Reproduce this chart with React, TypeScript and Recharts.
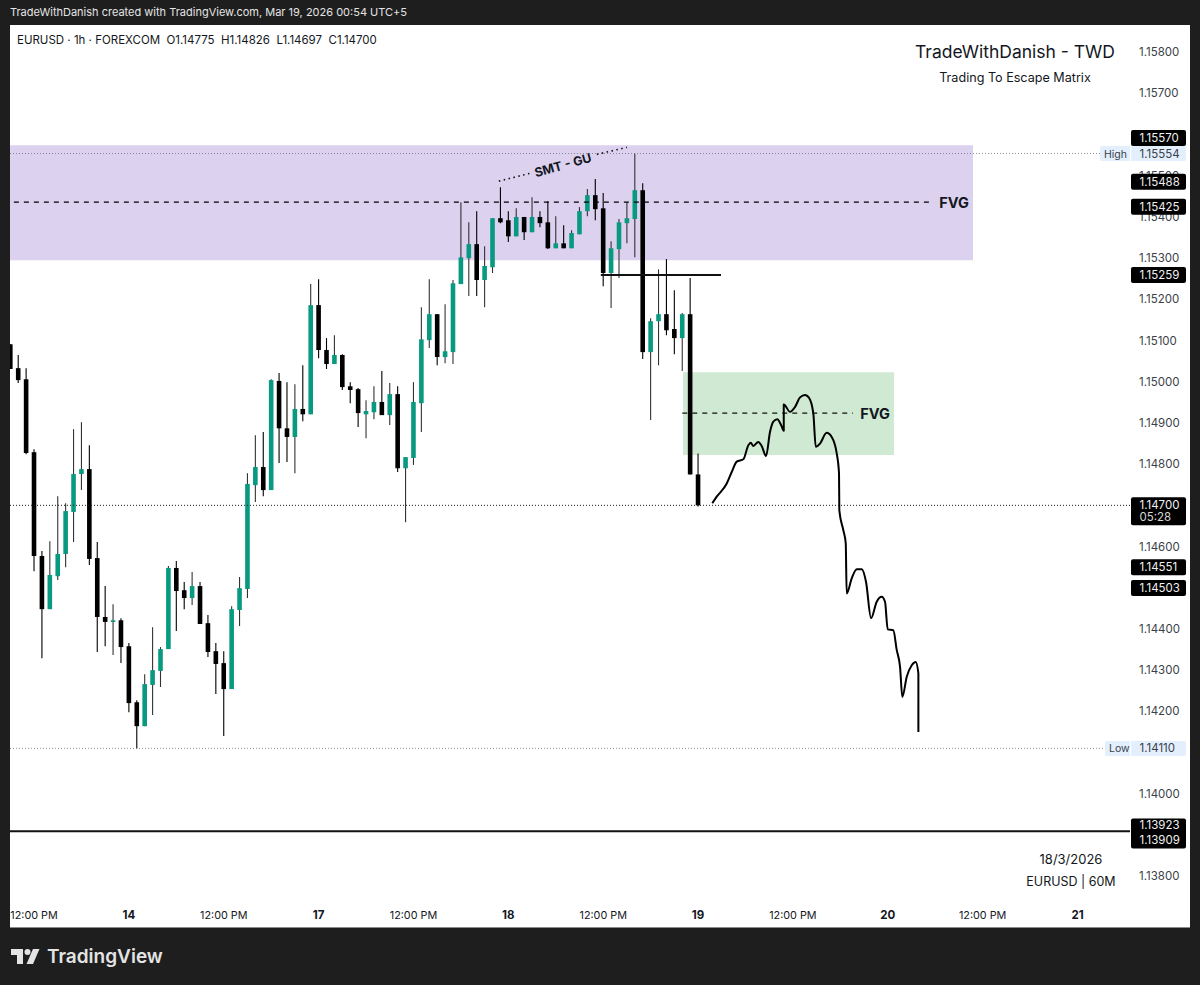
import React from "react";
import {
  ComposedChart, Bar, Line, XAxis, YAxis, ReferenceArea, ReferenceLine, ReferenceDot,
} from "recharts";

const hourIndex = Array.from({ length: 88 }, (_, i) => i);
const opens = [
  1.15091,1.15033,1.15006,1.14829,1.14577,1.14448,1.14528,1.14582,1.14684,1.14776,
  1.14788,1.14572,1.14429,1.14417,1.14421,1.14358,1.14222,1.14164,1.14264,1.14298,
  1.14351,1.14548,1.14494,1.14475,1.14504,1.14414,1.14346,1.14317,1.14254,1.14446,
  1.14497,1.14749,1.14793,1.14737,1.15002,1.14887,1.14866,1.14934,1.14921,1.15186,
  1.15077,1.15043,1.15065,1.14989,1.14982,1.14921,1.14926,1.14951,1.14919,1.14970,
  1.14790,1.14815,1.14948,1.15101,1.15164,1.15060,1.15072,1.15237,1.15300,1.15334,
  1.15247,1.15278,1.15397,1.15392,1.15353,1.15400,1.15363,1.15400,1.15387,1.15324,
  1.15336,1.15324,1.15358,1.15414,1.15453,1.15421,1.15264,1.15322,1.15385,1.15395,
  1.15465,1.15072,1.15147,1.15164,1.15128,1.15106,1.15164,1.14775,
];
const closes = [
  1.15031,1.15004,1.14827,1.14577,1.14448,1.14531,1.14582,1.14686,1.14776,1.14788,
  1.14570,1.14429,1.14417,1.14421,1.14356,1.14220,1.14164,1.14266,1.14300,1.14351,
  1.14548,1.14492,1.14475,1.14504,1.14412,1.14344,1.14315,1.14254,1.14448,1.14499,
  1.14752,1.14793,1.14737,1.15004,1.14887,1.14866,1.14934,1.14921,1.15186,1.15077,
  1.15043,1.15065,1.14987,1.14980,1.14924,1.14929,1.14951,1.14919,1.14970,1.14790,
  1.14817,1.14951,1.15103,1.15164,1.15060,1.15074,1.15239,1.15302,1.15334,1.15247,
  1.15281,1.15397,1.15387,1.15353,1.15400,1.15363,1.15400,1.15385,1.15324,1.15336,
  1.15324,1.15361,1.15414,1.15453,1.15419,1.15264,1.15324,1.15387,1.15397,1.15465,
  1.15072,1.15147,1.15164,1.15125,1.15106,1.15164,1.14775,1.14700,
];
const highs = [
  1.15091,1.15065,1.15033,1.14836,1.14589,1.14613,1.14722,1.14705,1.14885,1.14902,
  1.14846,1.14611,1.14504,1.14460,1.14426,1.14366,1.14227,1.14290,1.14404,1.14356,
  1.14553,1.14565,1.14514,1.14538,1.14514,1.14434,1.14366,1.14346,1.14455,1.14526,
  1.14778,1.14870,1.14878,1.15006,1.15021,1.14999,1.14994,1.15040,1.15237,1.15249,
  1.15106,1.15113,1.15067,1.14999,1.14985,1.14955,1.14989,1.15026,1.14997,1.14989,
  1.14817,1.14999,1.15181,1.15249,1.15164,1.15188,1.15247,1.15436,1.15387,1.15414,
  1.15329,1.15397,1.15472,1.15414,1.15421,1.15400,1.15448,1.15414,1.15438,1.15402,
  1.15380,1.15368,1.15424,1.15468,1.15492,1.15458,1.15341,1.15395,1.15436,1.15554,
  1.15482,1.15154,1.15273,1.15298,1.15222,1.15167,1.15252,1.14826,
];
const lows = [
  1.15031,1.14997,1.14824,1.14540,1.14329,1.14448,1.14519,1.14550,1.14611,1.14737,
  1.14555,1.14344,1.14358,1.14337,1.14317,1.14198,1.14110,1.14164,1.14191,1.14259,
  1.14351,1.14395,1.14448,1.14458,1.14412,1.14332,1.14242,1.14140,1.14254,1.14407,
  1.14475,1.14708,1.14722,1.14737,1.14803,1.14805,1.14778,1.14904,1.14921,1.15057,
  1.15031,1.15043,1.14980,1.14948,1.14890,1.14863,1.14909,1.14919,1.14895,1.14781,
  1.14659,1.14798,1.14878,1.15082,1.15040,1.15045,1.15043,1.15237,1.15208,1.15208,
  1.15181,1.15264,1.15385,1.15339,1.15353,1.15344,1.15363,1.15375,1.15322,1.15324,
  1.15324,1.15324,1.15358,1.15402,1.15392,1.15232,1.15179,1.15252,1.15336,1.15302,
  1.15055,1.14907,1.15040,1.15113,1.15067,1.15026,1.14775,1.14697,
];
const candles = hourIndex.map((idx, i) => ({
  idx, open: opens[i], close: closes[i], high: highs[i], low: lows[i], range: [lows[i], highs[i]],
}));

const sketchHours = [
  88.8,89.36,90.63,91.26,91.89,92.73,93.36,93.66,93.99,94.62,95.05,95.6,96.1,96.52,97.03,97.5,97.84,97.84,
  98.64,99.27,99.9,100.53,101.07,101.58,101.89,102.43,103.27,103.9,104.54,104.83,104.87,105.37,105.68,105.8,
  106.44,107.07,107.7,108.25,108.88,109.6,110.23,110.65,110.99,111.7,112.13,112.55,112.84,113.4,114.03,114.53,114.87,114.87,
];
const sketchPrices = [
  1.14705,1.14721,1.14753,1.14781,1.14806,1.14812,1.14846,1.14852,1.14844,1.14854,1.14844,1.14820,1.14878,1.14903,1.14909,1.14895,1.14881,1.14945,
  1.14927,1.14939,1.14962,1.14968,1.14960,1.14923,1.14842,1.14850,1.14876,1.14866,1.14826,1.14778,1.14688,1.14640,1.14608,1.14486,
  1.14523,1.14545,1.14545,1.14514,1.14426,1.14466,1.14478,1.14466,1.14399,1.14397,1.14349,1.14308,1.14235,1.14284,1.14312,1.14320,1.14292,1.14150,
];
const sketch = sketchHours.map((idx, i) => ({ idx, sketchPrice: sketchPrices[i] }));

const priceTicks = [
  1.138,1.14,1.142,1.143,1.144,1.146,1.147,1.148,1.149,1.15,
  1.151,1.152,1.153,1.154,1.155,1.156,1.157,1.158,
];
const timeTicks = [3,15,27,39,51,63,75,87,99,111,123,135];
const timeLabels = ["12:00 PM","14","12:00 PM","17","12:00 PM","18","12:00 PM","19","12:00 PM","20","12:00 PM","21"];

const darkTags = [
  { price: 1.1557, shift: -9 },
  { price: 1.15488, shift: 1 },
  { price: 1.15425, shift: 0 },
  { price: 1.15259, shift: 0 },
  { price: 1.14551, shift: 0.5 },
  { price: 1.14503, shift: 1.5 },
];

const FONT = "Inter, 'Noto Sans', sans-serif";
const GREEN = "#089981";
const X_DOMAIN = [-0.04, 141.64];
const Y_DOMAIN = [1.13742, 1.15866];

const Candle = (p: any) => {
  const { x, y, width, height, payload } = p;
  if (!payload || height == null) return null;
  const cx = x + width / 2;
  const span = payload.high - payload.low || 1e-9;
  const at = (v: number) => y + ((payload.high - v) / span) * height;
  const top = at(Math.max(payload.open, payload.close));
  const bot = at(Math.min(payload.open, payload.close));
  const fill = payload.close >= payload.open ? GREEN : "#000000";
  return (
    <g>
      <line x1={cx} x2={cx} y1={y} y2={y + height} stroke={fill === GREEN ? "#333" : "#000"} strokeWidth={1.1} />
      <rect x={cx - 2.3} y={top} width={4.6} height={Math.max(bot - top, 1.5)} fill={fill} />
    </g>
  );
};

const tagText = { fontFamily: FONT, fontSize: 11.5 };

const darkTag = (price: number, shift: number) => (p: any) => {
  const yy = p.y1 + shift;
  return (
    <g>
      <rect x={1131} y={yy - 8} width={55} height={16} rx={2} fill="#000" />
      <text x={1139.5} y={yy + 4} fill="#f0f0f0" {...tagText}>{price.toFixed(5)}</text>
    </g>
  );
};

const lightTag = (name: string, price: number, left: number) => (p: any) => {
  const yy = p.y1;
  return (
    <g>
      <rect x={left} y={yy - 7.5} width={1186 - left} height={15} rx={2} fill="#e3effd" />
      <rect x={1130} y={yy - 7.5} width={1.2} height={15} fill="#fff" />
      <text x={left + 4} y={yy + 4} fill="#3a3f4b" fontFamily={FONT} fontSize={10.5}>{name}</text>
      <text x={1139.5} y={yy + 4} fill="#3a3f4b" {...tagText}>{price.toFixed(5)}</text>
    </g>
  );
};

const lastPriceTag = (p: any) => {
  const yy = p.y1;
  return (
    <g>
      <rect x={1131} y={yy - 8} width={55} height={28} rx={2} fill="#000" />
      <text x={1139.5} y={yy + 4} fill="#f0f0f0" {...tagText}>1.14700</text>
      <text x={1139.5} y={yy + 16} fill="#d8d8d8" {...tagText}>05:28</text>
    </g>
  );
};

const lowerPairTag = (p: any) => {
  const yy = p.y1;
  return (
    <g>
      <rect x={1131} y={yy - 7} width={55} height={30} rx={2} fill="#000" />
      <text x={1139.5} y={yy + 4} fill="#f0f0f0" {...tagText}>1.13923</text>
      <text x={1139.5} y={yy + 19} fill="#f0f0f0" {...tagText}>1.13909</text>
    </g>
  );
};

const label = (text: string, size: number, weight: number | string = 400, rotate = 0) => (p: any) => (
  <text
    x={p.cx} y={p.cy} textAnchor="middle" dominantBaseline="central"
    fontFamily={FONT} fontSize={size} fontWeight={weight} fill="#131722"
    transform={rotate ? `rotate(${rotate} ${p.cx} ${p.cy})` : undefined}
  >{text}</text>
);

const TimeTick = (p: any) => {
  const i = timeTicks.indexOf(p.payload.value);
  const t = timeLabels[i] ?? "";
  const bold = /^\d+$/.test(t);
  return (
    <text x={p.x} y={p.y + 19} textAnchor="middle" fontFamily={FONT} fontSize={bold ? 11.5 : 10.8}
      fontWeight={bold ? 700 : 400} fill="#131722">{t}</text>
  );
};

export default function App() {
  return (
    <div style={{ position: "fixed", left: 0, top: 0, width: 1200, height: 985, background: "#1e1e1e", overflow: "hidden" }}>
      <div style={{ position: "absolute", left: 10, top: 25, width: 1180, height: 902, background: "#fff", borderBottom: "1px solid #8a8a8a" }} />
      <div style={{ position: "absolute", left: 10, top: 5, fontFamily: FONT, fontSize: 11, color: "#e4e4e4", whiteSpace: "nowrap" }}>
        TradeWithDanish created with TradingView.com, Mar 19, 2026 00:54 UTC+5
      </div>
      <div style={{ position: "absolute", left: 17, top: 33, fontFamily: FONT, fontSize: 11.5, color: "#131722", whiteSpace: "pre", zIndex: 2 }}>
        {"EURUSD · 1h · FOREXCOM  O1.14775  H1.14826  L1.14697  C1.14700"}
      </div>
      <div style={{ position: "absolute", left: 860, width: 310, top: 41, textAlign: "center", fontFamily: FONT, fontSize: 17.5, color: "#131722", zIndex: 2 }}>
        TradeWithDanish - TWD
      </div>
      <div style={{ position: "absolute", left: 860, width: 310, top: 70, textAlign: "center", fontFamily: FONT, fontSize: 12.6, color: "#131722", zIndex: 2 }}>
        Trading To Escape Matrix
      </div>
      <div style={{ position: "absolute", left: 971, width: 200, top: 851, textAlign: "center", fontFamily: FONT, fontSize: 13, color: "#131722", zIndex: 2 }}>
        18/3/2026
      </div>
      <div style={{ position: "absolute", left: 971, width: 200, top: 874, textAlign: "center", fontFamily: FONT, fontSize: 12.5, color: "#131722", zIndex: 2 }}>
        EURUSD | 60M
      </div>
      <svg width={200} height={32} style={{ position: "absolute", left: 0, top: 942 }}>
        <path d="M11 7 H23 V22 H17 V13 H11 Z" fill="#e4e4e4" />
        <circle cx={27.5} cy={10} r={3} fill="#e4e4e4" />
        <path d="M33 7 H39.5 L33 22 H26.5 Z" fill="#e4e4e4" />
        <text x={47} y={21} fontFamily={FONT} fontSize={19} fontWeight={600} fill="#e4e4e4">TradingView</text>
      </svg>
      <div style={{ position: "absolute", left: 0, top: 0 }}>
        <ComposedChart
          width={1200} height={985} data={candles}
          margin={{ top: 25, right: 10, bottom: 58, left: 10 }}
        >
          <XAxis
            dataKey="idx" type="number" domain={X_DOMAIN} allowDataOverflow height={27}
            ticks={timeTicks} interval={0} tick={<TimeTick />} tickLine={false} axisLine={false} tickSize={0} tickMargin={0}
          />
          <YAxis
            orientation="right" type="number" domain={Y_DOMAIN} allowDataOverflow width={60}
            ticks={priceTicks} interval={0} tickLine={false} axisLine={false} tickSize={0} tickMargin={9}
            tickFormatter={(v: number) => v.toFixed(5)}
            tick={{ fontFamily: FONT, fontSize: 11.5, fill: "#3b3f48" }}
          />
          <ReferenceArea x1={-0.04} x2={121.78} y1={1.15295} y2={1.15574} fill="#dcd1ee" fillOpacity={1} stroke="none" />
          <ReferenceArea x1={85.1} x2={111.8} y1={1.14822} y2={1.15023} fill="#cfe9d3" fillOpacity={1} stroke="none" />

          <ReferenceLine segment={[{ x: -0.04, y: 1.15554 }, { x: 138, y: 1.15554 }]} stroke="#70737c" strokeWidth={0.8} strokeDasharray="1 2" />
          <ReferenceLine segment={[{ x: -0.04, y: 1.1411 }, { x: 138.6, y: 1.1411 }]} stroke="#70737c" strokeWidth={0.8} strokeDasharray="1 2" />
          <ReferenceLine y={1.147} stroke="#1c1c1c" strokeWidth={1} strokeDasharray="1 2" />
          <ReferenceLine y={1.13909} stroke="#111" strokeWidth={2} />
          <ReferenceLine segment={[{ x: 0.45, y: 1.15436 }, { x: 116.5, y: 1.15436 }]} stroke="#000" strokeWidth={1.2} strokeDasharray="5 5" />
          <ReferenceLine segment={[{ x: 85, y: 1.14924 }, { x: 106.6, y: 1.14924 }]} stroke="#111" strokeWidth={1.2} strokeDasharray="5 5" />
          <ReferenceLine segment={[{ x: 74.7, y: 1.15259 }, { x: 89.9, y: 1.15259 }]} stroke="#111" strokeWidth={2} />

          <Bar dataKey="range" barSize={6} shape={<Candle />} isAnimationActive={false} />

          <Line
            data={sketch} dataKey="sketchPrice" type="monotoneX" stroke="#000" strokeWidth={2}
            dot={false} activeDot={false} isAnimationActive={false} strokeLinejoin="round"
          />

          <ReferenceLine segment={[{ x: 61.8, y: 1.15487 }, { x: 65.74, y: 1.15506 }]} stroke="#111" strokeWidth={1.6} strokeDasharray="1.5 3.5" />
          <ReferenceLine segment={[{ x: 74.2, y: 1.15552 }, { x: 78, y: 1.15569 }]} stroke="#111" strokeWidth={1.6} strokeDasharray="1.5 3.5" />
          <ReferenceDot x={69.9} y={1.15526} ifOverflow="visible" shape={label("SMT - GU", 12.5, 700, -15.5)} />
          <ReferenceDot x={119.4} y={1.15436} ifOverflow="visible" shape={label("FVG", 14.5, 700)} />
          <ReferenceDot x={109.4} y={1.14924} ifOverflow="visible" shape={label("FVG", 14.5, 700)} />
        </ComposedChart>
      </div>
      <div style={{ position: "absolute", left: 0, top: 0 }}>
        <ComposedChart
          width={1200} height={985} data={candles}
          margin={{ top: 25, right: 70, bottom: 85, left: 10 }}
        >
          <XAxis dataKey="idx" type="number" domain={X_DOMAIN} allowDataOverflow hide />
          <YAxis type="number" domain={Y_DOMAIN} allowDataOverflow hide />
          {darkTags.map((t) => (
            <ReferenceLine key={t.price} y={t.price} stroke="none" ifOverflow="visible" shape={darkTag(t.price, t.shift)} />
          ))}
          <ReferenceLine y={1.15554} stroke="none" ifOverflow="visible" shape={lightTag("High", 1.15554, 1100)} />
          <ReferenceLine y={1.1411} stroke="none" ifOverflow="visible" shape={lightTag("Low", 1.1411, 1105)} />
          <ReferenceLine y={1.147} stroke="none" ifOverflow="visible" shape={lastPriceTag} />
          <ReferenceLine y={1.13923} stroke="none" ifOverflow="visible" shape={lowerPairTag} />
        </ComposedChart>
      </div>
    </div>
  );
}
